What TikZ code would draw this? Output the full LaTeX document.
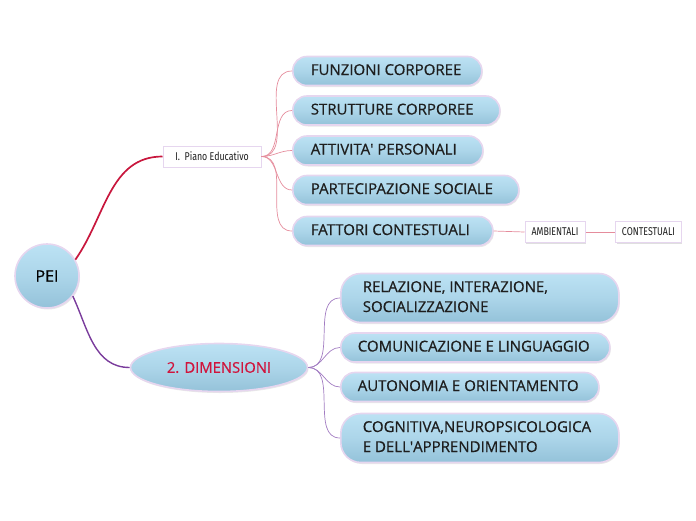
\documentclass[tikz,border=0pt]{standalone}
\usepackage{fontspec}
\setmainfont[FakeBold=0.6]{Open Sans}
\newfontfamily\condfont[FakeStretch=0.78]{Fira Sans}
\usetikzlibrary{shadows,shapes.geometric}
\definecolor{topb}{HTML}{BCE2F4}
\definecolor{botb}{HTML}{94C2D9}
\definecolor{rimc}{HTML}{E6D6EF}
\definecolor{redl}{HTML}{C8173D}
\definecolor{purl}{HTML}{7A3C9C}
\definecolor{pinkl}{HTML}{E58C9C}
\definecolor{purthin}{HTML}{A27CC2}
\definecolor{txt}{HTML}{1E1E1E}
\definecolor{dimred}{HTML}{D0143C}
\newcommand\pilltext[3]{\makebox[#1][l]{\hspace*{#2}\begin{tabular}{@{}l@{}}#3\end{tabular}}}
\tikzset{
  bluefill/.style={top color=topb, bottom color=botb, middle color=topb!60!botb, draw=rimc, line width=1.6pt, drop shadow={opacity=0.18, shadow xshift=1pt, shadow yshift=-1.5pt}},
  pill/.style={bluefill, rounded corners=14pt, minimum height=29pt, anchor=west, inner xsep=0pt, inner ysep=2pt, font=\fontsize{15}{20}\selectfont, text=txt},
  pill2/.style={pill, rounded corners=20pt, minimum height=49pt},
  smallbox/.style={draw=rimc, fill=white, line width=1pt, minimum height=21pt, font=\condfont\fontsize{11.3}{12}\selectfont, text=txt, drop shadow={opacity=0.25, shadow xshift=1.2pt, shadow yshift=-1.2pt}, inner xsep=6pt},
  redcon/.style={draw=redl, line width=1.7pt},
  purcon/.style={draw=purl, line width=1.4pt},
  pinkcon/.style={draw=pinkl, line width=0.7pt},
  purthincon/.style={draw=purthin, line width=0.7pt}
}
\begin{document}
\begin{tikzpicture}[x=1pt,y=-1pt]
\useasboundingbox (0,0) rectangle (696,520);
% root
\node[bluefill, circle, minimum size=64pt, font=\fontsize{16}{18}\selectfont, text=black] (pei) at (47,276) {PEI};
% level 1
\node[smallbox, minimum width=98pt] (piano) at (212,156.5) {I.\ \ Piano Educativo};
\node[bluefill, ellipse, minimum width=177pt, minimum height=48pt, font=\fontsize{14.8}{16}\selectfont, text=dimred] (dim) at (219,367.5) {2. DIMENSIONI};
% children of piano
\node[pill] (f1) at (292,71) {\pilltext{189pt}{18pt}{FUNZIONI CORPOREE}};
\node[pill] (f2) at (292,110.5) {\pilltext{207pt}{18pt}{STRUTTURE CORPOREE}};
\node[pill] (f3) at (292,150.5) {\pilltext{190pt}{18pt}{ATTIVITA\textquotesingle\ PERSONALI}};
\node[pill] (f4) at (292,190) {\pilltext{226pt}{18pt}{PARTECIPAZIONE SOCIALE}};
\node[pill] (f5) at (292,231) {\pilltext{200pt}{18pt}{FATTORI CONTESTUALI}};
\node[smallbox, minimum width=60pt] (amb) at (555,232) {AMBIENTALI};
\node[smallbox, minimum width=63pt] (cont) at (648.5,232) {CONTESTUALI};
% children of dimensioni
\node[pill2] (d1) at (340,298) {\pilltext{278pt}{22pt}{RELAZIONE, INTERAZIONE,\\SOCIALIZZAZIONE}};
\node[pill] (d2) at (340,347.5) {\pilltext{269pt}{17pt}{COMUNICAZIONE E LINGUAGGIO}};
\node[pill] (d3) at (340,387) {\pilltext{258pt}{17pt}{AUTONOMIA E ORIENTAMENTO}};
\node[pill2] (d4) at (340,438) {\pilltext{278pt}{22pt}{COGNITIVA,NEUROPSICOLOGICA\\E DELL\textquotesingle APPRENDIMENTO}};
% connectors
\draw[redcon] (pei.30) to[out=55,in=180] (piano.west);
\draw[purcon] (pei.-38) to[out=-65,in=180] (dim.west);
\foreach \n in {f1,f2,f3,f4,f5}{\draw[pinkcon] (piano.east) to[out=0,in=180] (\n.west);}
\draw[pinkcon] (f5.east) -- (amb.west);
\draw[pinkcon] (amb.east) -- (cont.west);
\foreach \n in {d1,d2,d3,d4}{\draw[purthincon] (dim.east) to[out=0,in=180] (\n.west);}
\end{tikzpicture}
\end{document}
